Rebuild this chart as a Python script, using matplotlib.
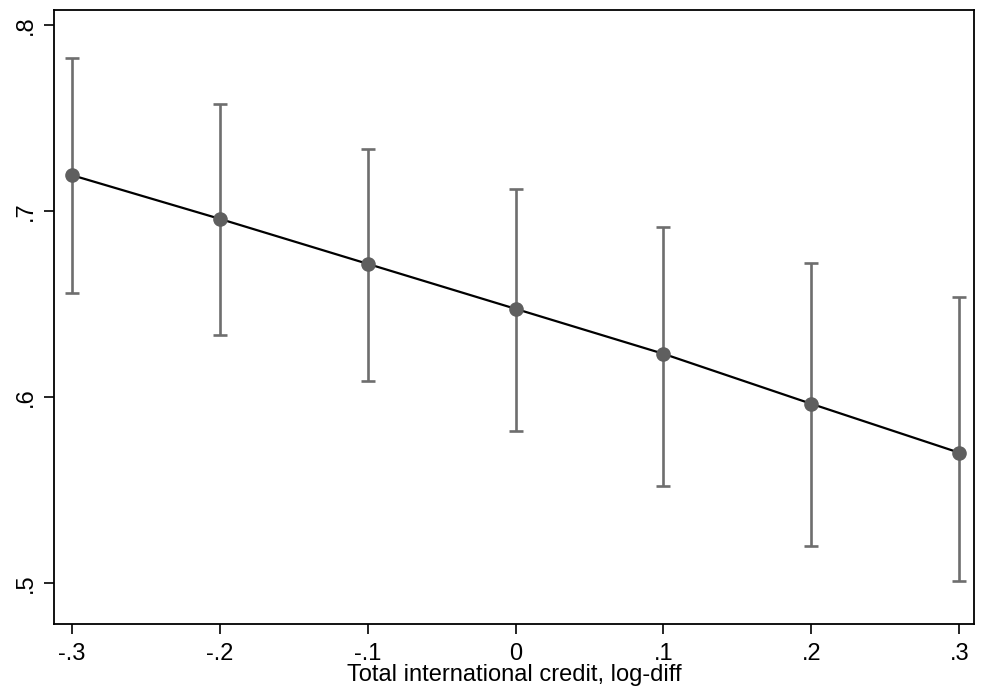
import matplotlib.pyplot as plt
import numpy as np

plt.rcParams['font.family'] = ['Liberation Sans', 'DejaVu Sans']

# predictive margins with 95% CIs
credit = [-0.3, -0.2, -0.1, 0.0, 0.1, 0.2, 0.3]
margin = [0.7192, 0.6957, 0.6715, 0.6473, 0.6231, 0.5962, 0.5699]
ci_low = [0.6560, 0.6333, 0.6086, 0.5817, 0.5522, 0.5199, 0.5010]
ci_high = [0.7820, 0.7575, 0.7333, 0.7118, 0.6914, 0.6720, 0.6534]

xticks = [-0.3, -0.2, -0.1, 0.0, 0.1, 0.2, 0.3]
xticklabels = ['-.3', '-.2', '-.1', '0', '.1', '.2', '.3']
yticks = [0.5, 0.6, 0.7, 0.8]
yticklabels = ['.5', '.6', '.7', '.8']

fig = plt.figure(figsize=(9.81, 6.97), dpi=100)
ax = fig.add_axes([0.055, 0.1047, 0.938, 0.881])

m = np.array(margin)
err = [m - np.array(ci_low), np.array(ci_high) - m]
ax.errorbar(credit, margin, yerr=err, fmt='none', ecolor='#6e6e6e',
            elinewidth=1.9, capsize=4.7, capthick=1.9, zorder=2)
ax.plot(credit, margin, color='black', lw=1.6, zorder=3)
ax.plot(credit, margin, 'o', color='#5f5f5f', ms=9.5, zorder=4)

ax.set_xlim(-0.312, 0.31)
ax.set_ylim(0.4778, 0.808)
ax.set_xticks(xticks)
ax.set_xticklabels(xticklabels)
ax.set_yticks(yticks)
ax.set_yticklabels(yticklabels, rotation=90, va='center')
ax.tick_params(labelsize=17, length=7, width=1.2, color='black')
ax.tick_params(axis='x', pad=7)
ax.tick_params(axis='y', pad=5)
ax.set_xlabel('Total international credit, log-diff', fontsize=17, labelpad=-1)
for s in ax.spines.values():
    s.set_linewidth(1.3)

fig.savefig('out.png', dpi=100)
